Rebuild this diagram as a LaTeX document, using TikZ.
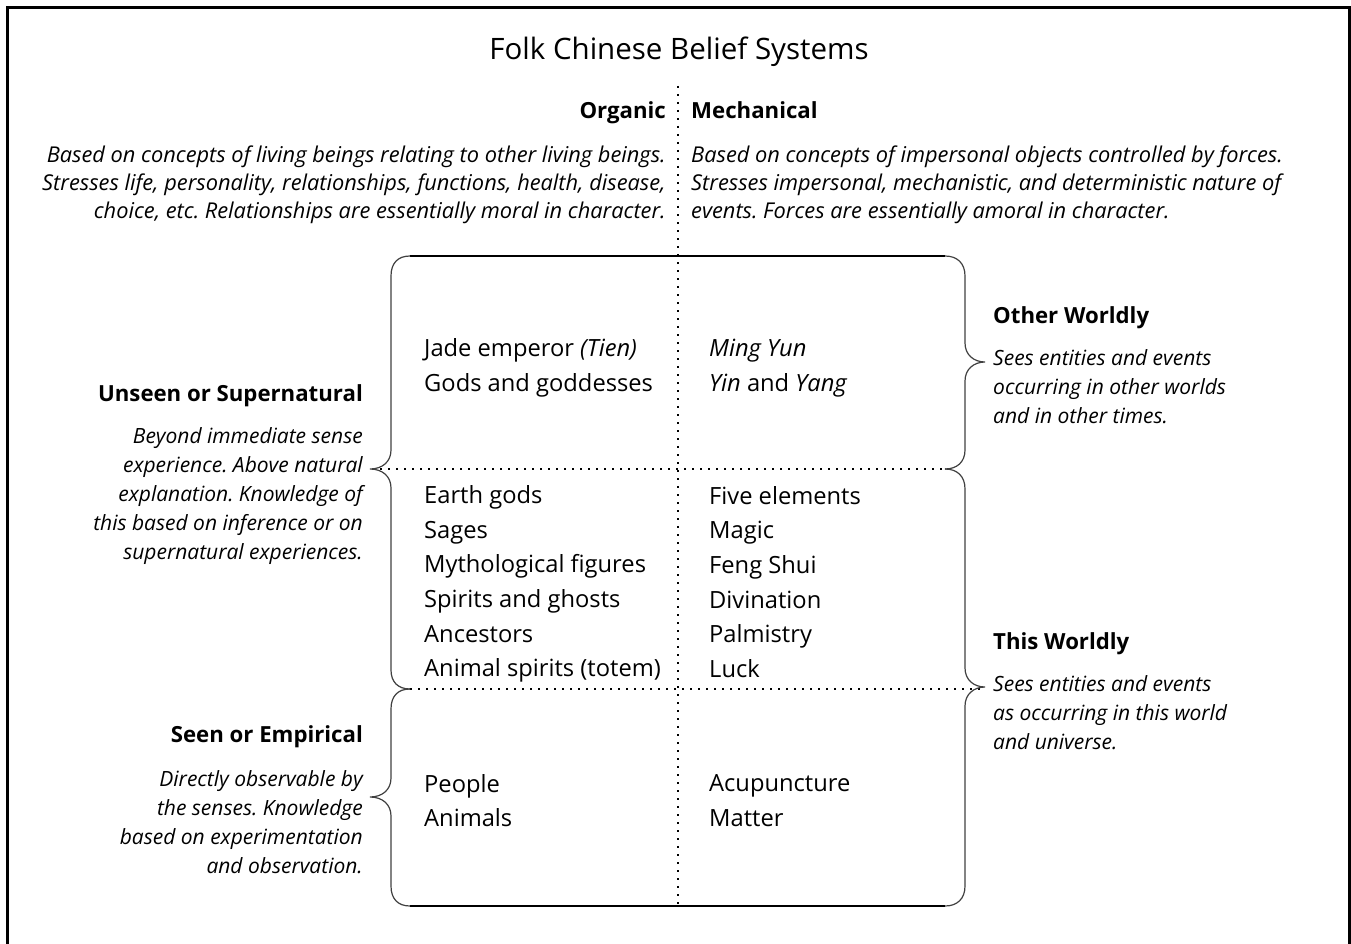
\documentclass[tikz,border=0pt]{standalone}
\usepackage{fontspec}
\setmainfont{Open Sans}
\frenchspacing
\begin{document}
\begin{tikzpicture}[x=1pt,y=-1pt,
  frame/.style={line width=3pt},
  boxline/.style={line width=1.6pt},
  bracel/.style={line width=1.2pt, draw=black!75},
  dotline/.style={line width=2pt, dash pattern=on 2pt off 6pt},
  titlef/.style={font=\fontsize{29.5}{32}\selectfont, inner sep=0},
  body/.style={font=\fontsize{23.7}{34.6}\selectfont, inner sep=0, align=left},
  head/.style={font=\bfseries\fontsize{22.2}{26}\selectfont, inner sep=0},
  topl/.style={font=\itshape\fontsize{21.8}{28}\selectfont, inner sep=0, align=right},
  topr/.style={font=\itshape\fontsize{21.8}{28}\selectfont, inner sep=0, align=left},
  descl/.style={font=\itshape\fontsize{21}{28.9}\selectfont, inner sep=0, align=right},
  descr/.style={font=\itshape\fontsize{21}{28.9}\selectfont, inner sep=0, align=left},
]
\useasboundingbox (0,0) rectangle (1351,944);
\draw[frame] (7.5,980) -- (7.5,7.5) -- (1349.5,7.5) -- (1349.5,980);

% title and column heads
\node[titlef] (title) at (679,52) {Folk Chinese Belief Systems};
\node[head, anchor=base east] (organic) at (666,119) {Organic};
\node[head, anchor=base west] (mech) at (691,119) {Mechanical};
\node[topl, anchor=east] (orgdesc) at (666,185) {Based on concepts of living beings relating to other living beings.\\Stresses life, personality, relationships, functions, health, disease,\\choice, etc. Relationships are essentially moral in character.};
\node[topr, anchor=west] (mechdesc) at (691,185) {Based on concepts of impersonal objects controlled by forces.\\Stresses impersonal, mechanistic, and deterministic nature of\\events. Forces are essentially amoral in character.};

% grid coordinates
\coordinate (tl) at (410,256);
\coordinate (tr) at (945,256);
\coordinate (bl) at (410,906);
\coordinate (br) at (945,906);
\coordinate (vtop) at (678,86);
\coordinate (vbot) at (678,906);
\coordinate (h1l) at (372,469);
\coordinate (h1r) at (945,469);
\coordinate (h2l) at (410,689);
\coordinate (h2r) at (985,689);

\draw[boxline] (tl) -- (tr);
\draw[boxline] (bl) -- (br);
\draw[dotline] (vtop) -- (vbot);
\draw[dotline] (h1l) -- (h1r);
\draw[dotline] (h2l) -- (h2r);

% left braces
\draw[bracel] (410,256) .. controls (398,256) and (391,263) .. (391,276) -- (391,450)
  .. controls (391,462) and (382,469) .. (370,469)
  .. controls (382,469) and (391,476) .. (391,488) -- (391,670)
  .. controls (391,682) and (398,689) .. (410,689);
\draw[bracel] (410,689) .. controls (398,689) and (391,696) .. (391,709) -- (391,778)
  .. controls (391,790) and (382,797) .. (370,797)
  .. controls (382,797) and (391,804) .. (391,816) -- (391,886)
  .. controls (391,899) and (398,906) .. (410,906);
% right braces
\draw[bracel] (945,256) .. controls (957,256) and (965,263) .. (965,276) -- (965,343)
  .. controls (965,355) and (974,362) .. (985,362)
  .. controls (974,362) and (965,369) .. (965,381) -- (965,450)
  .. controls (965,462) and (957,469) .. (945,469);
\draw[bracel] (945,469) .. controls (957,469) and (965,476) .. (965,489) -- (965,668)
  .. controls (965,680) and (974,687) .. (985,687)
  .. controls (974,687) and (965,694) .. (965,706) -- (965,886)
  .. controls (965,899) and (957,906) .. (945,906);

% quadrant contents
\node[body, anchor=west] (q1) at (424,368) {Jade emperor \textit{(Tien)}\\Gods and goddesses};
\node[body, anchor=west] (q2) at (709,368) {\textit{Ming Yun}\\\textit{Yin} and \textit{Yang}};
\node[body, anchor=west] (q3) at (424,584) {Earth gods\\Sages\\Mythological figures\\Spirits and ghosts\\Ancestors\\Animal spirits (totem)};
\node[body, anchor=west] (q4) at (709,582) {Five elements\\Magic\\Feng Shui\\Divination\\Palmistry\\Luck};
\node[body, anchor=west] (q5) at (424,800.5) {People\\Animals};
\node[body, anchor=west] (q6) at (709,800.5) {Acupuncture\\Matter};

% left labels
\node[head, anchor=east] (unseen) at (363,396) {Unseen or Supernatural};
\node[descl, anchor=east] (unseendesc) at (363,496) {Beyond immediate sense\\experience. Above natural\\explanation. Knowledge of\\this based on inference or on\\supernatural experiences.};
\node[head, anchor=east] (seen) at (363,737) {Seen or Empirical};
\node[descl, anchor=east] (seendesc) at (363,822) {Directly observable by\\the senses. Knowledge\\based on experimentation\\and observation.};

% right labels
\node[head, anchor=west] (other) at (993,318) {Other Worldly};
\node[descr, anchor=west] (otherdesc) at (993,387) {Sees entities and events\\occurring in other worlds\\and in other times.};
\node[head, anchor=west] (this) at (993,644) {This Worldly};
\node[descr, anchor=west] (thisdesc) at (993,713) {Sees entities and events\\as occurring in this world\\and universe.};
\end{tikzpicture}
\end{document}
